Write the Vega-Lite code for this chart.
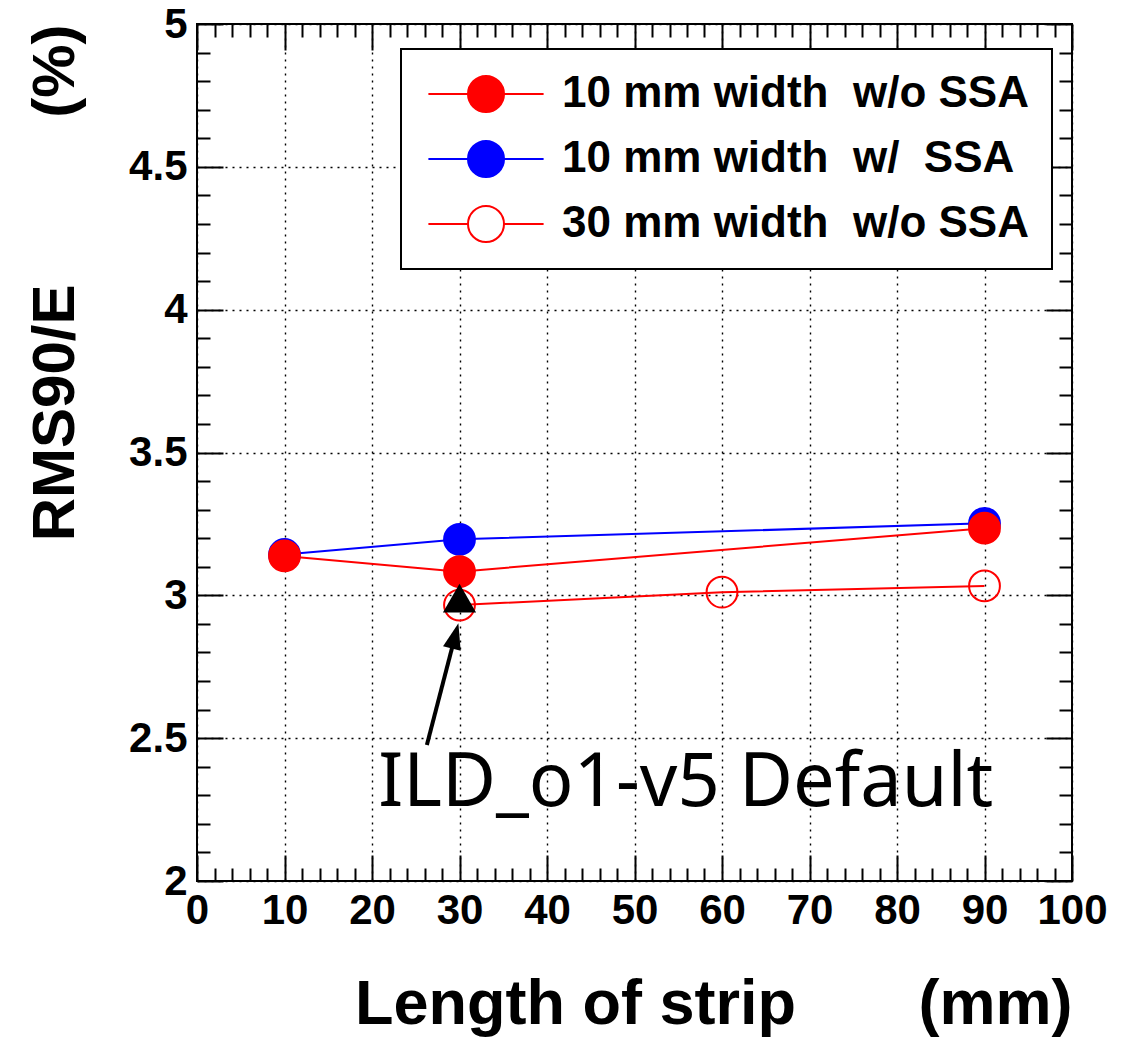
{
  "$schema": "https://vega.github.io/schema/vega-lite/v6.json",
  "width": 875,
  "height": 857,
  "autosize": {"type": "none"},
  "padding": {"left": 197, "top": 24, "right": 62, "bottom": 156},
  "background": "white",
  "config": {"view": {"stroke": "black", "strokeWidth": 2}, "font": "Liberation Sans"},
  "datasets": {
    "series": [
      {"series": "10 mm width\u00a0\u00a0w/\u00a0\u00a0SSA", "length": 10, "rms": 3.143},
      {"series": "10 mm width\u00a0\u00a0w/\u00a0\u00a0SSA", "length": 30, "rms": 3.196},
      {"series": "10 mm width\u00a0\u00a0w/\u00a0\u00a0SSA", "length": 90, "rms": 3.252},
      {"series": "10 mm width\u00a0\u00a0w/o SSA", "length": 10, "rms": 3.138},
      {"series": "10 mm width\u00a0\u00a0w/o SSA", "length": 30, "rms": 3.083},
      {"series": "10 mm width\u00a0\u00a0w/o SSA", "length": 90, "rms": 3.235},
      {"series": "30 mm width\u00a0\u00a0w/o SSA", "length": 30, "rms": 2.966},
      {"series": "30 mm width\u00a0\u00a0w/o SSA", "length": 60, "rms": 3.011},
      {"series": "30 mm width\u00a0\u00a0w/o SSA", "length": 90, "rms": 3.033}
    ],
    "marker": [{"length": 30, "rms": 2.99}],
    "arrow": [{"length": 26.27, "rms": 2.476, "length2": 29.5, "rms2": 2.858}],
    "head": [{"length": 29.5, "rms": 2.858}],
    "note": [{"length": 20.7, "rms": 2.263, "label": "ILD_o1-v5 Default"}]
  },
  "resolve": {"axis": {"x": "independent", "y": "independent"}},
  "layer": [
    {
      "data": {"name": "series"},
      "mark": {"type": "line", "strokeWidth": 2},
      "encoding": {
        "x": {"field": "length", "type": "quantitative", "scale": {"domain": [0, 100], "nice": false, "zero": false},
          "axis": {"orient": "bottom", "values": [0, 10, 20, 30, 40, 50, 60, 70, 80, 90, 100], "format": "d",
            "title": "Length of strip\u00a0\u00a0\u00a0\u00a0\u00a0\u00a0\u00a0(mm)", "titleFontSize": 63, "titleFontWeight": "bold", "titleColor": "black", "titleAnchor": "end", "titlePadding": 42,
            "labelFontSize": 42, "labelFontWeight": "bold", "labelColor": "black", "labelPadding": 35, "labelFlush": false, "labelOverlap": false,
            "tickSize": -26, "tickWidth": 2, "tickColor": "black", "domain": false,
            "grid": true, "gridColor": "black", "gridDash": [2, 5], "gridWidth": 1.4}},
        "y": {"field": "rms", "type": "quantitative", "scale": {"domain": [2, 5], "nice": false, "zero": false},
          "axis": {"orient": "left", "values": [2, 2.5, 3, 3.5, 4, 4.5, 5], "format": "~g",
            "title": "RMS90/E\u00a0\u00a0\u00a0\u00a0\u00a0\u00a0\u00a0\u00a0\u00a0\u00a0(%)", "titleFontSize": 60, "titleFontWeight": "bold", "titleColor": "black", "titleAnchor": "end", "titlePadding": 42,
            "labelFontSize": 42, "labelFontWeight": "bold", "labelColor": "black", "labelPadding": 36, "labelOverlap": false,
            "tickSize": -26, "tickWidth": 2, "tickColor": "black", "domain": false,
            "grid": true, "gridColor": "black", "gridDash": [2, 5], "gridWidth": 1.4}},
        "stroke": {"field": "series", "type": "nominal",
          "scale": {"domain": ["10 mm width\u00a0\u00a0w/o SSA", "10 mm width\u00a0\u00a0w/\u00a0\u00a0SSA", "30 mm width\u00a0\u00a0w/o SSA"], "range": ["#ff0000", "#0000ff", "#ff0000"]},
          "legend": {"title": null, "orient": "none", "legendX": 204, "legendY": 25,
            "symbolType": "M-3.2,0H-1M1,0H3.2M-1,0A1,1,0,1,0,1,0A1,1,0,1,0,-1,0Z", "symbolSize": 1296, "symbolStrokeWidth": 2, "symbolOffset": 40,
            "labelOffset": 54, "labelFont": "Liberation Sans", "labelFontSize": 44, "labelFontWeight": "bold", "labelColor": "black", "labelLimit": 0,
            "padding": 23, "rowPadding": 21, "strokeColor": "black", "fillColor": "white",
            "encode": {"legend": {"update": {"strokeWidth": {"value": 2}}}}}}
      }
    },
    {
      "data": {"name": "series"},
      "mark": {"type": "point", "filled": true, "size": 950, "strokeWidth": 2, "opacity": 1},
      "encoding": {
        "x": {"field": "length", "type": "quantitative", "scale": {"domain": [0, 100], "nice": false, "zero": false},
          "axis": {"orient": "bottom", "values": [2,4,6,8,12,14,16,18,22,24,26,28,32,34,36,38,42,44,46,48,52,54,56,58,62,64,66,68,72,74,76,78,82,84,86,88,92,94,96,98],
            "labels": false, "grid": false, "domain": false, "tickSize": -13, "tickWidth": 2, "tickColor": "black", "title": null}},
        "y": {"field": "rms", "type": "quantitative", "scale": {"domain": [2, 5], "nice": false, "zero": false},
          "axis": {"orient": "left", "values": [2.1,2.2,2.3,2.4,2.6,2.7,2.8,2.9,3.1,3.2,3.3,3.4,3.6,3.7,3.8,3.9,4.1,4.2,4.3,4.4,4.6,4.7,4.8,4.9],
            "labels": false, "grid": false, "domain": false, "tickSize": -13, "tickWidth": 2, "tickColor": "black", "title": null}},
        "fill": {"field": "series", "type": "nominal",
          "scale": {"domain": ["10 mm width\u00a0\u00a0w/o SSA", "10 mm width\u00a0\u00a0w/\u00a0\u00a0SSA", "30 mm width\u00a0\u00a0w/o SSA"], "range": ["#ff0000", "#0000ff", "transparent"]},
          "legend": {"title": null, "orient": "none", "legendX": 204, "legendY": 25,
            "symbolType": "M-3.2,0H-1M1,0H3.2M-1,0A1,1,0,1,0,1,0A1,1,0,1,0,-1,0Z", "symbolSize": 1296, "symbolStrokeWidth": 2, "symbolOffset": 40,
            "labelOffset": 54, "labelFont": "Liberation Sans", "labelFontSize": 44, "labelFontWeight": "bold", "labelColor": "black", "labelLimit": 0,
            "padding": 23, "rowPadding": 21, "strokeColor": "black", "fillColor": "white",
            "encode": {"legend": {"update": {"strokeWidth": {"value": 2}}}}}},
        "stroke": {"field": "series", "type": "nominal",
          "scale": {"domain": ["10 mm width\u00a0\u00a0w/o SSA", "10 mm width\u00a0\u00a0w/\u00a0\u00a0SSA", "30 mm width\u00a0\u00a0w/o SSA"], "range": ["#ff0000", "#0000ff", "#ff0000"]},
          "legend": {"title": null, "orient": "none", "legendX": 204, "legendY": 25,
            "symbolType": "M-3.2,0H-1M1,0H3.2M-1,0A1,1,0,1,0,1,0A1,1,0,1,0,-1,0Z", "symbolSize": 1296, "symbolStrokeWidth": 2, "symbolOffset": 40,
            "labelOffset": 54, "labelFont": "Liberation Sans", "labelFontSize": 44, "labelFontWeight": "bold", "labelColor": "black", "labelLimit": 0,
            "padding": 23, "rowPadding": 21, "strokeColor": "black", "fillColor": "white",
            "encode": {"legend": {"update": {"strokeWidth": {"value": 2}}}}}}
      }
    },
    {
      "data": {"name": "marker"},
      "mark": {"type": "point", "shape": "triangle-up", "filled": true, "size": 1100, "color": "black", "opacity": 1},
      "encoding": {
        "x": {"field": "length", "type": "quantitative", "scale": {"domain": [0, 100], "nice": false, "zero": false},
          "axis": {"orient": "top", "values": [0, 10, 20, 30, 40, 50, 60, 70, 80, 90, 100],
            "labels": false, "grid": false, "domain": false, "tickSize": -26, "tickWidth": 2, "tickColor": "black", "title": null}},
        "y": {"field": "rms", "type": "quantitative", "scale": {"domain": [2, 5], "nice": false, "zero": false},
          "axis": {"orient": "right", "values": [2, 2.5, 3, 3.5, 4, 4.5, 5],
            "labels": false, "grid": false, "domain": false, "tickSize": -26, "tickWidth": 2, "tickColor": "black", "title": null}}
      }
    },
    {
      "data": {"name": "arrow"},
      "mark": {"type": "rule", "strokeWidth": 4, "color": "black"},
      "encoding": {
        "x": {"field": "length", "type": "quantitative", "scale": {"domain": [0, 100], "nice": false, "zero": false},
          "axis": {"orient": "top", "values": [2,4,6,8,12,14,16,18,22,24,26,28,32,34,36,38,42,44,46,48,52,54,56,58,62,64,66,68,72,74,76,78,82,84,86,88,92,94,96,98],
            "labels": false, "grid": false, "domain": false, "tickSize": -13, "tickWidth": 2, "tickColor": "black", "title": null}},
        "x2": {"field": "length2"},
        "y": {"field": "rms", "type": "quantitative", "scale": {"domain": [2, 5], "nice": false, "zero": false},
          "axis": {"orient": "right", "values": [2.1,2.2,2.3,2.4,2.6,2.7,2.8,2.9,3.1,3.2,3.3,3.4,3.6,3.7,3.8,3.9,4.1,4.2,4.3,4.4,4.6,4.7,4.8,4.9],
            "labels": false, "grid": false, "domain": false, "tickSize": -13, "tickWidth": 2, "tickColor": "black", "title": null}},
        "y2": {"field": "rms2"}
      }
    },
    {
      "data": {"name": "head"},
      "mark": {"type": "point", "shape": "M0,-1L-0.7,1L0.7,1Z", "filled": true, "size": 676, "angle": 14.5, "color": "black", "opacity": 1},
      "encoding": {
        "x": {"field": "length", "type": "quantitative", "scale": {"domain": [0, 100], "nice": false, "zero": false}, "axis": null},
        "y": {"field": "rms", "type": "quantitative", "scale": {"domain": [2, 5], "nice": false, "zero": false}, "axis": null}
      }
    },
    {
      "data": {"name": "note"},
      "mark": {"type": "text", "font": "Noto Sans", "fontSize": 74, "align": "left", "baseline": "alphabetic", "color": "black"},
      "encoding": {
        "x": {"field": "length", "type": "quantitative", "scale": {"domain": [0, 100], "nice": false, "zero": false}, "axis": null},
        "y": {"field": "rms", "type": "quantitative", "scale": {"domain": [2, 5], "nice": false, "zero": false}, "axis": null},
        "text": {"field": "label"}
      }
    }
  ]
}
